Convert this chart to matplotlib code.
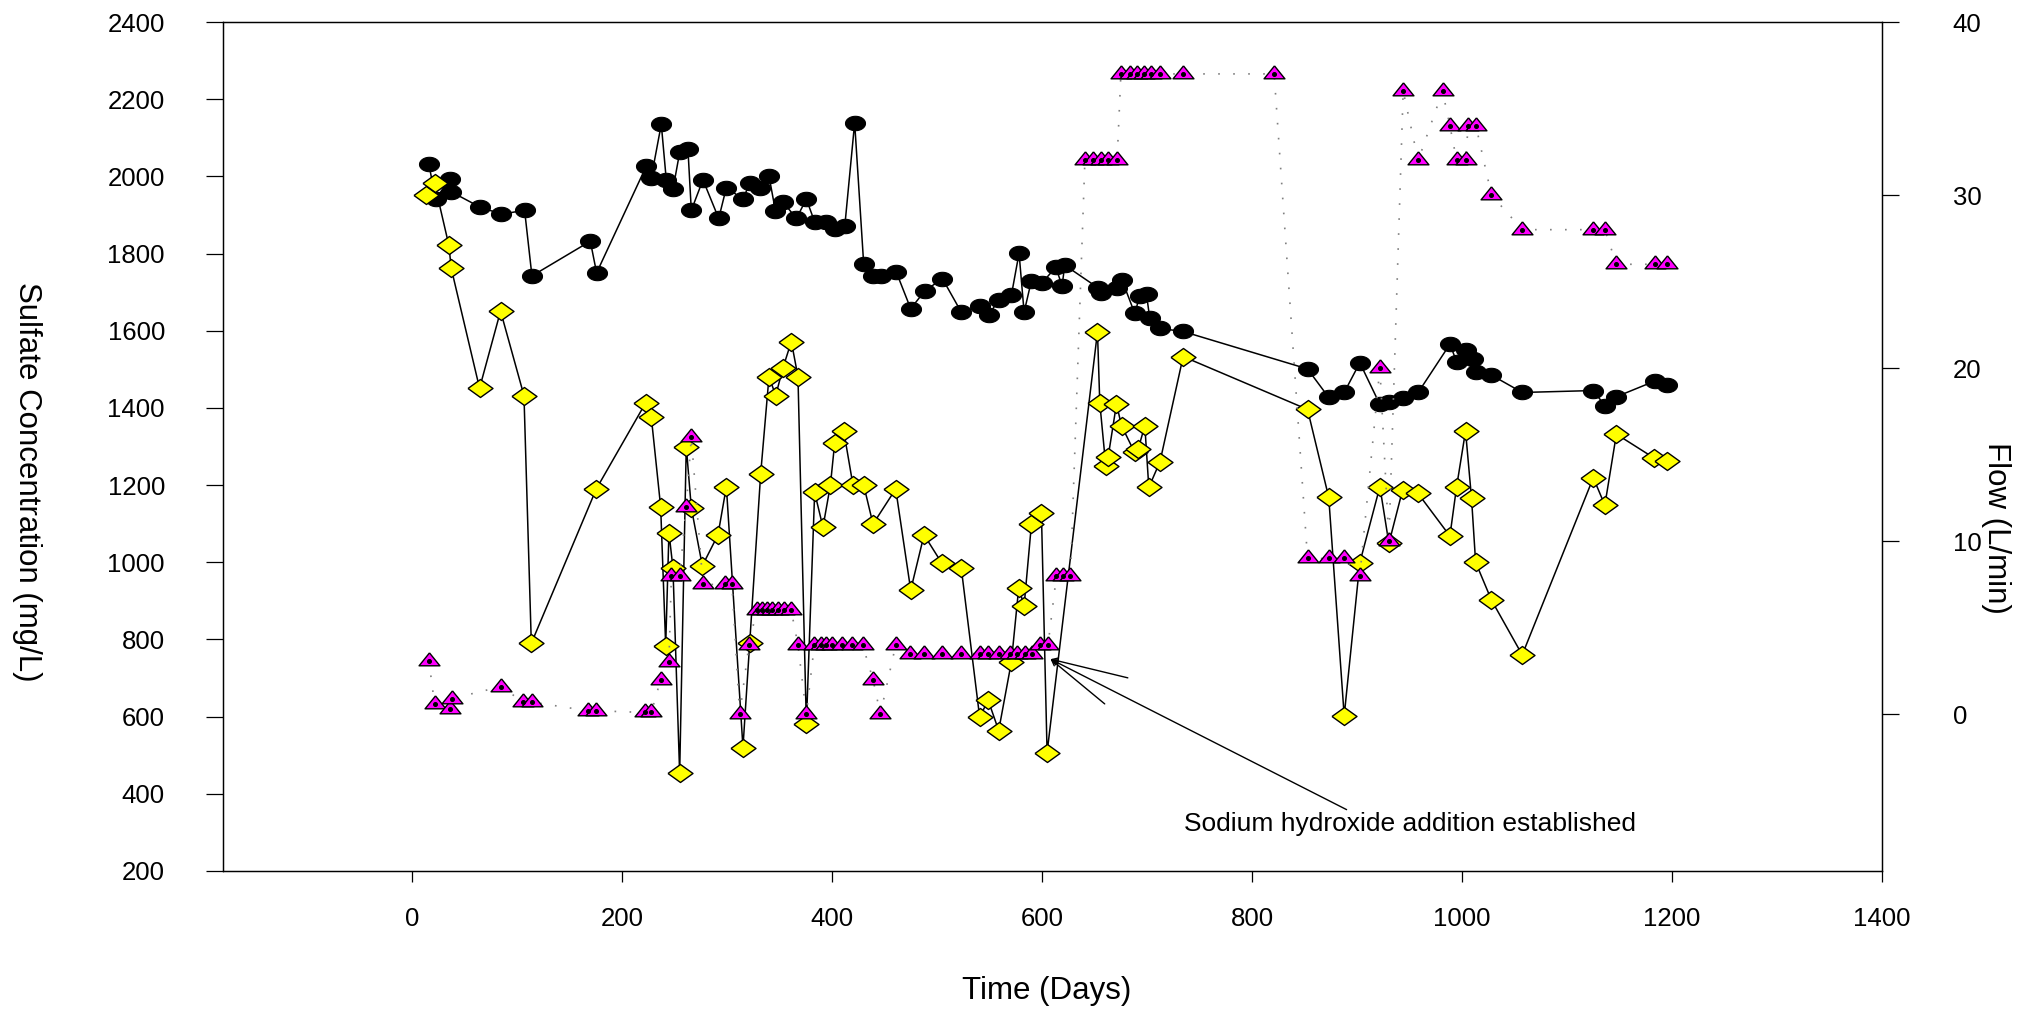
import numpy as np
import matplotlib
matplotlib.use("Agg")
import matplotlib.pyplot as plt

plt.rcParams['font.family'] = ['Liberation Sans', 'DejaVu Sans']

# Sulfate, reactor side (black circles)
circle_days = [15.8, 22.2, 35.5, 37.1, 64.1, 84.8, 107, 114, 169.6, 175.6,
               223, 227.7, 237.2, 242, 248.3, 254.7, 262.6, 265.8, 276.9, 291.9,
               299.2, 315, 321.4, 331, 339.8, 345.9, 353, 365.9, 375.4, 383.3,
               394.5, 402.4, 412, 421.4, 430, 438.9, 446.9, 461.2, 474.8, 488.1,
               505, 523, 540.5, 549, 558.6, 570.7, 578, 582.8, 589.8, 600,
               613, 619, 621.5, 653.3, 656.5, 671.4, 676.1, 688.2, 693, 699.4,
               702.5, 712, 734.3, 852.8, 873, 887.7, 902.6, 921.7, 930.6, 944,
               958.2, 988.4, 994.8, 1003.3, 1010.6, 1012.9, 1028, 1057.3, 1125, 1136,
               1147, 1184, 1195]
circle_so4 = [2032, 1941, 1992, 1960, 1921, 1902, 1912, 1742, 1832, 1750,
              2027, 1997, 2135, 1990, 1966, 2062, 2070, 1912, 1991, 1891,
              1971, 1941, 1982, 1969, 2001, 1911, 1934, 1891, 1941, 1882,
              1882, 1863, 1871, 2139, 1773, 1742, 1742, 1751, 1657, 1703,
              1735, 1648, 1664, 1640, 1680, 1692, 1801, 1648, 1730, 1724,
              1765, 1716, 1770, 1711, 1697, 1710, 1731, 1645, 1690, 1694,
              1632, 1606, 1598, 1501, 1427, 1440, 1517, 1409, 1416, 1426,
              1440, 1565, 1520, 1550, 1526, 1494, 1485, 1440, 1445, 1406,
              1429, 1470, 1460]

# Sulfate, other sampling point (yellow diamonds)
diamond_days = [13.3, 21.2, 34.9, 37.1, 64.1, 84.1, 106.4, 113.4, 175.3, 222.3,
                227.7, 236.6, 241.4, 244.5, 248.3, 254.7, 261, 265.8, 276.3, 291.2,
                299.2, 315, 321.4, 331.9, 339.8, 346.2, 353, 361.1, 367.4, 375.4,
                383.3, 391.2, 398.3, 402.4, 411, 419.8, 430, 438.9, 460.5, 474.8,
                487.5, 504.6, 523, 540.5, 548.5, 558.6, 570.7, 577.7, 582.8, 589.8,
                599.3, 604.7, 652.7, 654.9, 660.6, 662.8, 670.8, 675.6, 688, 691.4,
                697.8, 701.6, 712.3, 734.3, 852.8, 873, 887.7, 902.6, 921.7, 930.3,
                943.3, 957.6, 988.4, 994.8, 1003.3, 1009, 1012.9, 1028, 1057.3, 1125,
                1136, 1147, 1183, 1195]
diamond_so4 = [1952, 1982, 1821, 1762, 1451, 1651, 1432, 790, 1190, 1413,
               1376, 1144, 784, 1077, 986, 453, 1300, 1141, 991, 1071,
               1196, 520, 790, 1230, 1481, 1432, 1503, 1572, 1481, 580,
               1181, 1091, 1200, 1310, 1340, 1200, 1200, 1099, 1190, 928,
               1071, 997, 984, 598, 643, 564, 742, 934, 887, 1099,
               1128, 507, 1597, 1413, 1250, 1272, 1410, 1354, 1285, 1293,
               1354, 1194, 1261, 1533, 1396, 1168, 602, 999, 1196, 1049,
               1187, 1180, 1068, 1196, 1340, 1166, 1000, 902, 760, 1219,
               1148, 1332, 1270, 1262]

# Flow (magenta triangles, right axis)
flow_days = [15.8, 21.2, 35.5, 37.7, 84.8, 105.4, 114, 167.3, 175.3, 221.3,
             227.7, 236.6, 244.5, 246.8, 254.7, 261, 265.8, 276.9, 297.6, 304.5,
             311.9, 320.7, 328, 333, 338, 343, 348, 354, 361, 367.4,
             375.4, 383, 389, 394, 400, 409, 419, 429, 438.9, 445.9,
             460.5, 473.9, 487.5, 504.6, 523, 540.5, 548.5, 558.6, 569.1, 576.1,
             583.4, 590.4, 597.7, 605.6, 613.6, 620, 627, 640.7, 648.5, 656.5,
             662.8, 671.4, 675, 684, 690, 697, 704, 712, 734, 821,
             852.8, 873, 887.7, 902.6, 921.7, 930.3, 943.9, 958.2, 981.4, 988.4,
             994.8, 1003.3, 1005.8, 1013.2, 1028, 1057.3, 1125, 1136, 1147, 1184,
             1195]
flow_lpm = [3.1, 0.6, 0.3, 0.9, 1.6, 0.7, 0.7, 0.2, 0.2, 0.1,
            0.1, 2, 3, 8, 8, 12, 16, 7.5, 7.5, 7.5,
            0, 4, 6, 6, 6, 6, 6, 6, 6, 4,
            0, 4, 4, 4, 4, 4, 4, 4, 2, 0,
            4, 3.5, 3.5, 3.5, 3.5, 3.5, 3.5, 3.5, 3.5, 3.5,
            3.5, 3.5, 4, 4, 8, 8, 8, 32, 32, 32,
            32, 32, 37, 37, 37, 37, 37, 37, 37, 37,
            9, 9, 9, 8, 20, 10, 36, 32, 36, 34,
            32, 32, 34, 34, 30, 28, 28, 28, 26, 26,
            26]

x_ticks = [0, 200, 400, 600, 800, 1000, 1200, 1400]
so4_ticks = list(range(200, 2401, 200))
flow_ticks = [0, 10, 20, 30, 40]

# squashed symbols: wider than tall
t = np.linspace(0, 2 * np.pi, 61)
ellipse = np.column_stack([np.cos(t), 0.72 * np.sin(t)])
diamond = np.array([[-1, 0], [0, 0.72], [1, 0], [0, -0.72], [-1, 0]])
h = 1.24
triangle = np.array([[0, 2 * h / 3], [-1, -h / 3], [1, -h / 3], [0, 2 * h / 3]])

fig = plt.figure(figsize=(20.31, 10.09), dpi=100)
ax = fig.add_axes([223.3 / 2031, 1 - 871 / 1009, (1882 - 223.3) / 2031, (871 - 22) / 1009])

ax.plot(circle_days, circle_so4, '-', color='black', lw=1.1,
        marker=ellipse, ms=14.4, mfc='black', mec='black', mew=0.8, zorder=2)
ax.plot(diamond_days, diamond_so4, '-', color='black', lw=1.1,
        marker=diamond, ms=18, mfc='#ffff00', mec='black', mew=1.0, zorder=3)

ax.set_xlim(-180, 1400)
ax.set_ylim(200, 2400)
ax.set_xticks(x_ticks)
ax.set_yticks(so4_ticks)
ax.tick_params(axis='x', direction='out', length=8, width=0.9, pad=18, labelsize=18.5)
ax.tick_params(axis='y', direction='out', length=12, width=0.9, pad=30, labelsize=18.5)
for s in ax.spines.values():
    s.set_linewidth(0.9)

ax2 = ax.twinx()
ax2.plot(flow_days, flow_lpm, linestyle=(0, (1, 8)), color='0.5', lw=1.2, zorder=1)
ax2.plot(flow_days, flow_lpm, linestyle='none', marker=triangle, ms=15,
         mfc='#ff00ff', mec='black', mew=1.0, zorder=2)
ax2.plot(flow_days, flow_lpm, linestyle='none', marker='o', ms=2.6,
         mfc='black', mec='black', zorder=3)
ax2.set_ylim(-9.06, 40)
ax2.set_yticks(flow_ticks)
ax2.tick_params(axis='y', direction='out', length=12, width=0.9, pad=39, labelsize=18.5)
for s in ax2.spines.values():
    s.set_linewidth(0.9)

# NaOH start marker
tip = (608, 749)
for end in [(681.6, 700.5), (659.6, 633), (890, 359)]:
    ax.annotate('', xy=tip, xytext=end,
                arrowprops=dict(arrowstyle='->', color='black', lw=1.0,
                                shrinkA=0, shrinkB=0, mutation_scale=10))
ax.text(735, 322, 'Sodium hydroxide addition established', fontsize=19,
        ha='left', va='center')

fig.text(1047 / 2031, 1 - 991 / 1009, 'Time (Days)', fontsize=22.5,
         ha='center', va='center')
fig.text(27 / 2031, 1 - 482 / 1009, 'Sulfate Concentration (mg/L)', fontsize=22.5,
         ha='center', va='center', rotation=270)
fig.text(1996 / 2031, 1 - 528 / 1009, 'Flow (L/min)', fontsize=22.5,
         ha='center', va='center', rotation=270)

fig.savefig('out.png', dpi=100)
